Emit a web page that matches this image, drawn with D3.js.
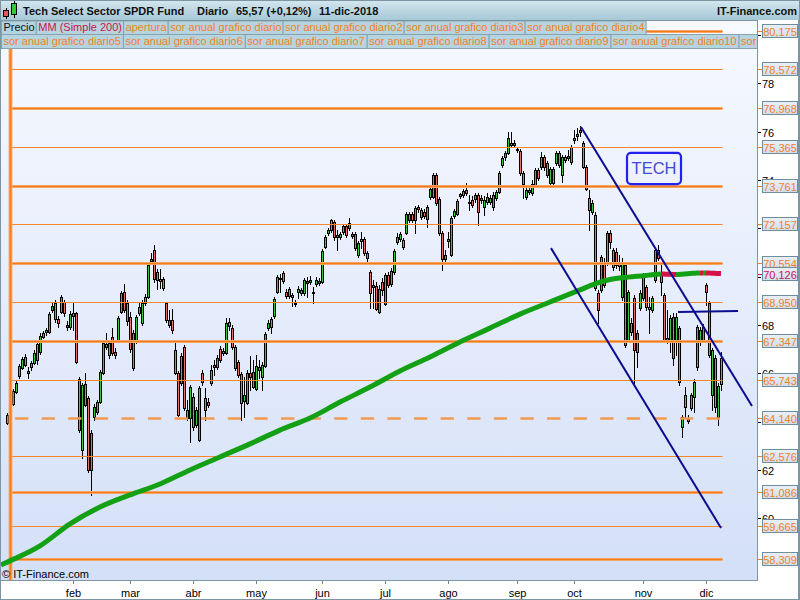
<!DOCTYPE html>
<html>
<head>
<meta charset="utf-8">
<script src="https://cdn.jsdelivr.net/npm/d3@7/dist/d3.min.js"></script>
<style>
html,body{margin:0;padding:0;background:#ffffff;overflow:hidden;}
svg{display:block;}
text{font-family:"Liberation Sans",Arial,Helvetica,sans-serif;}
</style>
</head>
<body>
<svg id="chart" width="800" height="600"></svg>
<script>
// ================= DATA =================
const instrument = "Tech Select Sector SPDR Fund";
const period = "Diario";
const lastDate = "11-dic-2018";
const site = "IT-Finance.com";
const firstIndex = -1; // 29-dic-2017 ; index 0 = 2-ene-2018 (trading-day index)

const open = [
64.28,
64.15,
64.73,65.23,65.89,66.22,66.68,66.01,66.26,66.43,67.21,
66.88,67.50,67.71,67.71,68.62,68.91,68.25,68.54,68.95,68.00,
67.92,68.50,68.50,65.77,62.83,65.56,64.98,62.00,64.19,64.40,
64.81,66.01,67.09,67.25,67.50,66.88,67.38,68.54,69.37,68.91,
68.33,66.22,67.34,68.74,68.08,68.91,69.16,70.65,71.10,70.19,
69.90,69.90,68.91,68.00,68.21,66.97,66.01,65.60,67.09,64.48,
64.15,65.02,63.86,63.24,66.01,64.98,64.81,65.60,66.35,66.26,
67.01,66.84,66.84,67.96,67.88,67.09,66.47,65.97,64.86,64.77,
66.01,65.43,65.35,66.26,65.85,66.30,67.88,67.92,68.37,69.37,
69.90,70.15,69.37,69.20,69.24,68.91,69.37,69.45,69.32,69.74,
69.78,69.37,69.70,69.82,69.78,71.23,71.81,71.93,72.26,71.64,
71.64,71.85,72.10,72.01,71.76,71.19,70.90,71.47,71.56,70.98,
70.19,69.57,69.61,68.54,69.78,68.87,70.07,69.70,70.19,71.43,
71.56,71.52,71.81,72.34,72.59,72.34,72.88,72.76,72.67,72.38,
73.30,73.30,74.21,73.21,71.81,70.73,71.47,70.90,72.51,72.59,
73.34,73.38,73.59,73.09,73.17,73.21,73.38,73.17,72.88,73.30,
73.09,72.88,73.25,73.50,74.62,74.95,75.12,75.53,75.45,75.28,
75.20,74.29,73.30,73.50,73.46,73.79,74.41,74.54,74.95,74.70,
73.87,74.45,74.70,75.12,74.21,74.95,74.91,74.74,75.65,75.82,
76.07,75.53,74.54,73.25,72.67,72.55,69.32,69.45,70.57,70.57,
71.81,71.10,71.02,70.61,69.16,70.48,67.38,68.08,69.12,66.88,
68.70,69.12,69.57,68.74,68.62,69.86,71.10,70.07,69.24,67.38,
67.38,68.33,67.38,67.88,63.78,65.10,64.11,64.57,65.02,66.26,
67.38,67.38,69.65,68.91,65.10,66.63,64.19,66.63
];
const high = [
64.36,
64.69,
65.35,65.68,66.39,66.68,66.80,66.26,66.51,66.97,67.38,
67.67,67.75,67.88,68.54,68.91,69.03,68.37,69.24,69.03,68.17,
68.58,68.95,68.54,65.85,65.60,66.01,65.06,63.66,64.73,64.90,
66.14,67.34,67.67,67.38,67.88,67.05,68.37,69.41,69.70,69.03,
68.54,67.79,68.41,68.95,69.03,69.28,70.57,70.98,71.31,70.32,
70.32,69.99,68.95,68.62,68.66,67.30,66.10,66.84,67.17,64.90,
65.52,65.19,64.61,65.48,66.14,65.39,64.98,66.35,66.55,66.76,
67.13,67.05,68.29,68.29,68.00,67.17,66.55,66.06,65.85,66.14,
66.72,66.55,66.76,66.55,66.47,67.71,68.21,68.33,69.16,70.07,
70.11,70.23,69.49,69.57,69.32,69.03,69.61,69.53,69.94,69.99,
70.03,69.57,69.99,69.94,71.14,71.72,72.01,72.39,72.34,71.93,
71.85,72.18,72.18,72.43,71.85,71.85,71.47,71.85,71.64,71.06,
70.28,69.86,69.78,69.65,69.94,70.15,70.19,70.36,71.14,71.81,
71.85,71.60,72.67,72.67,72.67,72.92,72.96,72.84,72.80,72.96,
73.71,74.29,74.29,73.30,71.89,71.10,71.85,72.51,72.80,73.21,
73.46,73.63,73.87,73.38,73.34,73.46,73.46,73.38,73.34,73.46,
73.38,73.50,73.59,74.37,74.99,75.20,75.98,75.98,75.65,75.36,
75.28,74.37,73.67,73.75,74.00,74.50,74.50,75.16,75.03,74.78,
74.54,74.54,75.20,75.20,75.03,75.03,75.24,75.45,76.07,76.15,
76.23,75.61,74.62,73.59,73.17,72.67,69.45,70.90,70.77,71.89,
71.93,71.19,71.19,70.90,70.77,70.57,69.45,68.29,69.24,67.79,
69.45,70.15,69.65,69.16,69.20,71.19,71.31,70.57,69.32,68.62,
68.41,68.50,68.50,67.96,64.28,65.43,64.28,65.19,65.77,68.00,
67.92,68.04,69.74,68.99,67.05,66.76,65.60,66.88
];
const low = [
63.90,
64.07,
64.69,65.19,65.81,66.18,66.30,65.81,66.14,66.39,66.39,
66.80,67.46,67.59,67.67,68.54,68.12,67.92,68.50,68.37,67.79,
67.83,67.79,66.43,63.57,62.50,64.65,61.92,60.97,64.07,64.32,
64.77,65.97,67.01,66.63,66.76,66.63,67.34,68.50,68.54,68.00,
66.88,66.14,67.25,68.41,68.00,68.83,69.12,70.57,69.78,69.49,
69.53,69.45,68.12,67.92,67.67,65.97,64.24,65.52,64.48,64.07,
63.16,63.66,63.78,63.20,65.52,64.07,64.61,65.52,65.93,66.18,
66.47,66.76,66.80,67.79,67.01,66.14,65.85,64.07,64.19,64.73,
65.31,65.39,65.31,65.81,65.31,66.26,67.79,67.67,68.29,69.32,
69.37,69.74,69.12,69.12,68.79,68.79,69.12,69.24,69.24,69.16,
69.70,68.91,69.61,69.65,69.74,71.19,71.72,71.85,71.52,71.10,
71.56,71.76,71.64,71.93,71.60,71.10,70.81,71.19,70.90,70.57,
68.70,68.70,68.62,68.50,69.24,68.83,69.57,69.61,70.11,71.35,
71.47,71.14,71.76,72.26,72.26,71.81,72.67,72.38,72.43,72.05,
73.21,73.25,72.96,71.72,70.28,70.61,71.23,70.86,72.43,72.55,
73.25,73.30,73.38,72.76,72.88,73.09,72.14,73.05,72.55,73.01,
73.01,72.76,73.17,73.46,74.54,74.83,75.07,75.36,75.36,75.16,
74.21,73.25,73.21,73.42,73.38,73.71,74.00,74.45,74.41,74.12,
73.79,73.75,74.62,74.54,73.92,74.74,74.83,74.66,75.53,75.65,
75.82,74.50,73.59,71.93,72.59,69.45,68.08,69.37,69.57,70.48,
71.19,70.28,70.36,70.28,69.03,67.09,67.30,67.59,65.60,66.26,
68.62,69.03,68.62,67.67,68.54,69.78,70.69,69.24,67.30,67.25,
66.88,66.35,66.76,65.52,63.37,64.19,63.95,64.48,64.40,66.14,
67.17,67.30,68.83,66.68,64.48,64.40,63.86,65.31
];
const close = [
63.95,
64.61,
65.27,65.60,66.30,66.59,66.35,66.10,66.43,66.84,66.55,
67.55,67.67,67.79,68.46,68.79,68.25,68.08,69.16,68.50,67.92,
68.46,68.37,66.47,63.66,65.52,64.69,62.00,63.53,64.61,64.81,
66.06,67.25,67.21,66.76,66.84,66.76,68.29,69.32,68.62,68.17,
67.01,67.67,68.33,68.50,68.91,69.16,70.48,70.73,69.90,69.86,
69.82,69.53,68.21,68.21,67.79,66.01,64.28,66.72,64.57,64.15,
65.43,63.78,64.48,65.39,65.64,64.48,64.69,66.14,66.26,66.63,
66.55,66.92,68.08,68.12,67.09,66.22,65.93,64.77,65.10,66.01,
65.85,66.06,66.30,66.14,66.35,67.63,68.08,68.25,69.07,69.99,
69.95,69.82,69.20,69.49,69.16,68.87,69.49,69.32,69.86,69.82,
69.86,69.32,69.86,69.74,71.06,71.64,71.93,72.34,71.64,71.72,
71.76,72.10,71.72,72.22,71.68,71.76,71.39,71.56,70.98,70.77,
69.32,69.65,68.66,69.49,69.45,70.07,69.65,70.23,71.06,71.64,
71.76,71.23,72.59,72.59,72.34,72.84,72.80,72.47,72.51,72.88,
73.63,74.21,73.05,71.81,70.73,70.90,71.56,72.43,72.72,73.13,
73.42,73.54,73.46,73.05,72.96,73.38,72.67,73.25,73.17,73.09,
73.25,73.38,73.50,74.29,74.91,75.12,75.74,75.45,75.53,75.24,
74.29,73.83,73.59,73.59,73.83,74.41,74.08,74.95,74.54,74.21,
74.45,73.87,75.12,74.62,74.95,74.83,74.99,75.36,75.74,75.90,
75.98,74.54,73.63,72.76,73.05,69.53,68.62,70.81,69.65,71.81,
71.43,70.40,70.48,70.44,70.61,67.17,69.37,67.71,66.97,67.67,
69.32,69.99,68.74,68.66,69.12,71.10,70.77,69.78,67.38,67.46,
68.29,66.63,68.33,65.64,64.19,64.61,64.03,65.10,65.64,67.92,
67.79,67.92,69.37,66.76,66.97,64.61,65.49,65.57
];

// Moving average (Simple 200) read at trading-day indices
const maIndex = [-3,0,10,20,30,40,50,60,70,80,90,100,110,120,130,140,150,160,170,180,190,195,200,206,212,
  214,216,217,218,219,220,221,222,223,224,225,226,227,228,229,230,231,232,233,234,235,236,237];
const maValue = [58.07,58.24,58.86,59.77,60.47,60.97,61.42,62.00,62.54,63.08,63.65,64.15,64.81,65.43,66.10,66.68,67.30,67.87,68.45,68.95,69.45,69.70,69.88,69.98,70.05,
  70.08,70.10,70.11,70.105,70.10,70.095,70.09,70.085,70.09,70.10,70.11,70.12,70.13,70.14,70.15,70.155,70.15,70.155,70.15,70.14,70.135,70.13,70.126];

const monthLabels = ["feb","mar","abr","may","jun","jul","ago","sep","oct","nov","dic"];
const monthStartIndex = [21,40,61,82,104,125,146,169,188,211,232];

const priceTicks = [60,62,64,66,68,70,72,74,76,78,80];
const mainLevels = [80.175,76.968,73.761,70.554,67.347,61.086,58.309];
const minorLevels = [78.572,75.365,72.157,68.950,65.743,62.576,59.665];
const openLevel = 64.140;

const trendStartIndex = [190.33,180.33,222.67];
const trendStartPrice = [76.19,71.18,68.54];
const trendEndIndex   = [247.33,237.0,242.67];
const trendEndPrice   = [64.65,59.60,68.58];

const noteText = "TECH";
const noteIndexSpan = [205.67,223.67];
const notePriceSpan = [75.12,73.83];

const legendRow1 = ["Precio","MM (Simple 200)","apertura","sor anual grafico diario","sor anual grafico diario2","sor anual grafico diario3","sor anual grafico diario4"];
const legendRow2 = ["sor anual grafico diario5","sor anual grafico diario6","sor anual grafico diario7","sor anual grafico diario8","sor anual grafico diario9","sor anual grafico diario10","sor"];

// ================= DRAW =================
const svg = d3.select("#chart");
const P = {left:1, top:20, right:757, bottom:580};
const ORANGE = "#f4811f", GREEN_MA = "#14a014", RED_MA = "#d3124a", NAVY = "#0c0c8e";
const C_UP = "#3cc43c", C_DN = "#e8706a", FRAME = "#7b95a3";

const x = d3.scaleLinear().domain([0,237]).range([10,721]);
const y = d3.scaleLinear().domain([62,76]).range([470,131.6]);

const loc = d3.formatLocale({decimal:",",thousands:".",grouping:[3],currency:["","€"]});
const f3 = loc.format(".3f"), f2 = loc.format(".2f"), fpct = loc.format("+.2f");

const defs = svg.append("defs");
const g1 = defs.append("linearGradient").attr("id","plotbg").attr("x1",0).attr("y1",0).attr("x2",0).attr("y2",1);
g1.append("stop").attr("offset","0%").attr("stop-color","#f7f9ff");
g1.append("stop").attr("offset","100%").attr("stop-color","#d4e0f8");
const g2 = defs.append("linearGradient").attr("id","hdr").attr("x1",0).attr("y1",0).attr("x2",0).attr("y2",1);
g2.append("stop").attr("offset","0%").attr("stop-color","#d4e7ef");
g2.append("stop").attr("offset","100%").attr("stop-color","#a6c8d6");
const g3 = defs.append("linearGradient").attr("id","lbl").attr("x1",0).attr("y1",0).attr("x2",0).attr("y2",1);
g3.append("stop").attr("offset","0%").attr("stop-color","#e9f0f8");
g3.append("stop").attr("offset","100%").attr("stop-color","#cfdeee");
defs.append("clipPath").attr("id","clipPlot").append("rect")
  .attr("x",P.left).attr("y",P.top).attr("width",P.right-P.left).attr("height",P.bottom-P.top);

svg.append("rect").attr("width",800).attr("height",600).attr("fill","#fff");
svg.append("rect").attr("x",P.left).attr("y",P.top).attr("width",P.right-P.left).attr("height",P.bottom-P.top).attr("fill","url(#plotbg)");

const plot = svg.append("g").attr("clip-path","url(#clipPlot)");

// candles
const candles = open.map((o,k)=>({i:k+firstIndex,o:o,h:high[k],l:low[k],c:close[k]}));
const cg = plot.append("g").attr("shape-rendering","crispEdges");
cg.selectAll("line.w").data(candles).join("line")
  .attr("x1",d=>Math.round(x(d.i))+0.5).attr("x2",d=>Math.round(x(d.i))+0.5)
  .attr("y1",d=>Math.round(y(d.h))).attr("y2",d=>Math.round(y(d.l))+1)
  .attr("stroke","#000").attr("stroke-width",1);
cg.selectAll("rect.b").data(candles).join("rect")
  .attr("x",d=>Math.round(x(d.i))-0.5)
  .attr("y",d=>Math.round(y(Math.max(d.o,d.c)))+0.5)
  .attr("width",2)
  .attr("height",d=>Math.max(1,Math.round(y(Math.min(d.o,d.c)))-Math.round(y(Math.max(d.o,d.c)))))
  .attr("fill",d=>d.c>=d.o?C_UP:C_DN).attr("stroke","#000").attr("stroke-width",1);

// levels
const lx0 = x(0), lx1 = x(237)+1.5;
const lev = plot.append("g");
minorLevels.forEach(v=>{
  lev.append("line").attr("x1",lx0).attr("x2",lx1).attr("y1",Math.round(y(v))+0.5).attr("y2",Math.round(y(v))+0.5)
    .attr("stroke","#f5862a").attr("stroke-width",1.2);
});
mainLevels.forEach(v=>{
  const yy = Math.round(y(v))+0.5;
  lev.append("line").attr("x1",lx0).attr("x2",lx1).attr("y1",yy).attr("y2",yy).attr("stroke","#f7b37e").attr("stroke-width",3);
  lev.append("line").attr("x1",lx0).attr("x2",lx1).attr("y1",yy).attr("y2",yy).attr("stroke","#f27b1c").attr("stroke-width",1.3);
});
lev.append("line").attr("x1",x(0)+5).attr("x2",lx1).attr("y1",Math.round(y(openLevel))+0.5).attr("y2",Math.round(y(openLevel))+0.5)
  .attr("stroke","#f39a52").attr("stroke-width",2.4).attr("stroke-dasharray","13.3,13.3");

// year-open vertical line
plot.append("line").attr("x1",x(0)+0.5).attr("x2",x(0)+0.5).attr("y1",P.top).attr("y2",P.bottom).attr("stroke","#f8b07a").attr("stroke-width",4);
plot.append("line").attr("x1",x(0)+0.5).attr("x2",x(0)+0.5).attr("y1",P.top).attr("y2",P.bottom).attr("stroke","#f2801e").attr("stroke-width",2);

// moving average, coloured by direction
const maPts = maIndex.map((d,k)=>({i:d,v:maValue[k]}));
const groups = [];
for (let k=1;k<maPts.length;k++){
  const col = maPts[k].v < maPts[k-1].v ? RED_MA : GREEN_MA;
  if (!groups.length || groups[groups.length-1].col!==col) groups.push({col:col, pts:[maPts[k-1]]});
  groups[groups.length-1].pts.push(maPts[k]);
}
const maLine = d3.line().x(d=>x(d.i)).y(d=>y(d.v)).curve(d3.curveMonotoneX);
groups.forEach(gp=>{
  plot.append("path").attr("d",maLine(gp.pts)).attr("fill","none").attr("stroke",gp.col)
    .attr("stroke-width",5).attr("stroke-linejoin","round");
});

// trend lines
trendStartIndex.forEach((s,k)=>{
  plot.append("line").attr("x1",x(s)).attr("y1",y(trendStartPrice[k])).attr("x2",x(trendEndIndex[k])).attr("y2",y(trendEndPrice[k]))
    .attr("stroke",NAVY).attr("stroke-width",2);
});

// TECH note
const nx0 = x(noteIndexSpan[0]), nx1 = x(noteIndexSpan[1]), ny0 = y(notePriceSpan[0]), ny1 = y(notePriceSpan[1]);
plot.append("rect").attr("x",nx0).attr("y",ny0).attr("width",nx1-nx0).attr("height",ny1-ny0).attr("rx",4)
  .attr("fill","none").attr("stroke","#2222ee").attr("stroke-width",2.2);
plot.append("text").attr("x",(nx0+nx1)/2).attr("y",(ny0+ny1)/2+6).attr("text-anchor","middle")
  .attr("font-size",16.5).attr("fill","#4848d6").text(noteText);

// legend rows
const legG = svg.append("g").attr("clip-path","url(#clipPlot)");
function legendRow(items, colors, yTop, h, pad){
  let cx = 1;
  items.forEach((t,k)=>{
    const r = legG.append("rect");
    const tx = legG.append("text").attr("x",cx+2.5).attr("y",yTop+h-3.2).attr("font-size",11).attr("fill",colors[k]).text(t);
    let w = tx.node().getComputedTextLength()+pad;
    if (cx + w > P.right) w = P.right - cx;
    r.attr("x",cx+0.5).attr("y",yTop+0.5).attr("width",w).attr("height",h).attr("fill","#b6d4df").attr("stroke","#87a3b0").attr("stroke-width",1);
    cx += w;
  });
}
legendRow(legendRow1, legendRow1.map((t,k)=>k===0?"#111":(k===1?"#d0104a":ORANGE)), 20.5, 13.5, 3.6);
legendRow(legendRow2, legendRow2.map(()=>ORANGE), 34, 14, 4.5);

// header
svg.append("rect").attr("x",0).attr("y",0).attr("width",800).attr("height",20).attr("fill","url(#hdr)");
const ic = svg.append("g").attr("shape-rendering","crispEdges");
ic.append("line").attr("x1",6).attr("x2",6).attr("y1",8).attr("y2",19).attr("stroke","#000");
ic.append("rect").attr("x",3.5).attr("y",10.5).attr("width",4.5).attr("height",6).attr("fill","#e05a5a").attr("stroke","#000");
ic.append("line").attr("x1",14).attr("x2",14).attr("y1",1).attr("y2",18).attr("stroke","#000");
ic.append("rect").attr("x",11.5).attr("y",3.5).attr("width",5).attr("height",11).attr("fill","#36c836").attr("stroke","#000");
const lastC = close[close.length-1], prevC = close[close.length-2];
const hdrTexts = [[23,instrument],[197,period],[236,f2(lastC)+" ("+fpct((lastC/prevC-1)*100)+"%)"],[319,lastDate]];
hdrTexts.forEach(t=>svg.append("text").attr("x",t[0]).attr("y",15).attr("font-size",11).attr("font-weight","bold").attr("fill","#111").text(t[1]));
svg.append("text").attr("x",797).attr("y",15).attr("text-anchor","end").attr("font-size",11).attr("font-weight","bold").attr("fill","#111").text(site);

// right axis area
svg.append("rect").attr("x",P.right).attr("y",P.top).attr("width",800-P.right).attr("height",580-P.top).attr("fill","#fff");
const ax = svg.append("g");
const labelVals = [...mainLevels,...minorLevels,openLevel,maValue[maValue.length-1]];
priceTicks.forEach(v=>{
  const yy = Math.round(y(v))+0.5;
  if (yy<P.top+2 || yy>P.bottom) return;
  ax.append("line").attr("x1",P.right).attr("x2",P.right+4).attr("y1",yy).attr("y2",yy).attr("stroke","#000").attr("shape-rendering","crispEdges");
  const hidden = labelVals.some(l=>Math.abs(y(l)-y(v))<5.5);
  if (!hidden) ax.append("text").attr("x",P.right+5).attr("y",yy+4).attr("font-size",11).attr("fill","#000").text(v);
});
function valueLabel(v, col){
  const yy = Math.round(y(v))+0.5;
  ax.append("line").attr("x1",P.right).attr("x2",P.right+5).attr("y1",yy).attr("y2",yy).attr("stroke",col).attr("shape-rendering","crispEdges");
  ax.append("rect").attr("x",762.5).attr("y",yy-7).attr("width",35).attr("height",13).attr("fill","url(#lbl)").attr("stroke","#6f8d9d").attr("shape-rendering","crispEdges");
  ax.append("text").attr("x",780).attr("y",yy+4).attr("text-anchor","middle").attr("font-size",11).attr("fill",col).text(f3(v));
}
[...mainLevels,...minorLevels,openLevel].sort((a,b)=>b-a).forEach(v=>valueLabel(v,ORANGE));
valueLabel(maValue[maValue.length-1], RED_MA);

// bottom axis
svg.append("rect").attr("x",0).attr("y",P.bottom).attr("width",800).attr("height",20).attr("fill","#fff");
monthLabels.forEach((m,k)=>{
  const xx = Math.round(x(monthStartIndex[k]))+0.5;
  svg.append("line").attr("x1",xx).attr("x2",xx).attr("y1",P.bottom).attr("y2",P.bottom+4).attr("stroke","#6f8592").attr("shape-rendering","crispEdges");
  svg.append("text").attr("x",xx).attr("y",597).attr("text-anchor","middle").attr("font-size",11).attr("fill","#000").text(m);
});

// frames
svg.append("rect").attr("x",0.5).attr("y",P.top+0.5).attr("width",P.right-0.5).attr("height",P.bottom-P.top).attr("fill","none").attr("stroke",FRAME).attr("shape-rendering","crispEdges");
svg.append("line").attr("x1",798.5).attr("x2",798.5).attr("y1",20).attr("y2",600).attr("stroke",FRAME).attr("shape-rendering","crispEdges");
svg.append("rect").attr("x",0.5).attr("y",0.5).attr("width",799).attr("height",599).attr("fill","none").attr("stroke",FRAME).attr("shape-rendering","crispEdges");

// copyright
svg.append("text").attr("x",2).attr("y",578).attr("font-size",11).attr("fill","#000").text("\u00A9 "+site);
</script>
</body>
</html>
